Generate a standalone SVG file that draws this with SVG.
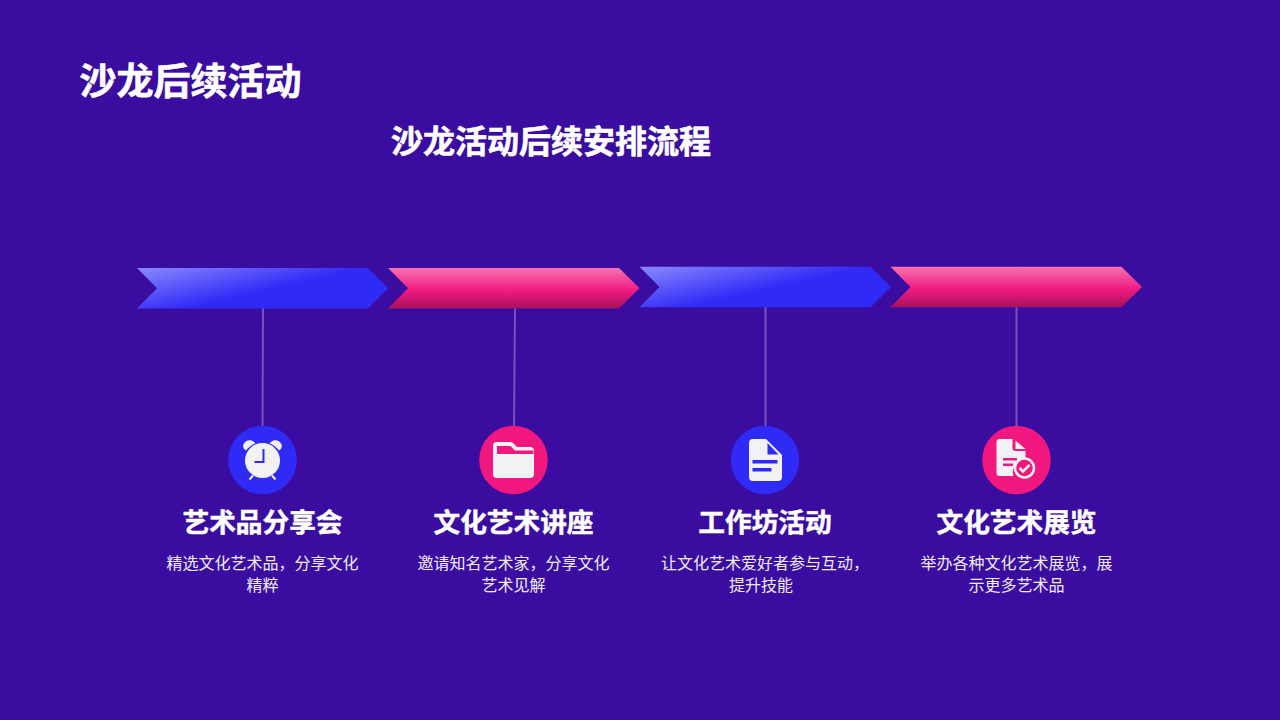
<svg xmlns="http://www.w3.org/2000/svg" width="1280" height="720" viewBox="0 0 1280 720">
<style>
text{font-family:"Noto Sans CJK SC","Noto Sans",sans-serif;text-anchor:middle;fill:#fff}
.h{font-weight:700;font-size:26.67px;stroke:#fff;stroke-width:.5px}
.d{font-size:16px;fill:#f1ecfb}
.t{font-weight:700;stroke:#fff;stroke-width:.6px}
.l{stroke:#6f55bd;stroke-width:2;fill:none}
.i{fill:#f2f2f4}
</style>
<defs>
<linearGradient id="bg" gradientUnits="userSpaceOnUse" x1="0" y1="0" x2="11" y2="49">
<stop offset="0" stop-color="#8a8aff"/><stop offset="1" stop-color="#2f2af5"/>
</linearGradient>
<linearGradient id="pg" x1="0" y1="0" x2="0" y2="1">
<stop offset="0" stop-color="#f872ae"/><stop offset="0.55" stop-color="#f01b80"/><stop offset="1" stop-color="#a80f5c"/>
</linearGradient>
<path id="chev" d="M0 0H231L251.500 20.200L231 40.500H0L20 20.200Z"/>
</defs>
<rect width="1280" height="720" fill="#3a0ca0"/>
<text id="title" x="190.500" y="95" class="t" font-size="37">沙龙后续活动</text>
<text id="subtitle" x="551" y="153" class="t" font-size="32">沙龙活动后续安排流程</text>
<g id="connectors">
<line class="l" x1="263" y1="307" x2="262.500" y2="430"/>
<line class="l" x1="515" y1="307" x2="514" y2="428"/>
<line class="l" x1="765.500" y1="307" x2="765.500" y2="428"/>
<line class="l" x1="1016.500" y1="307" x2="1016.500" y2="428"/>
</g>
<g id="step1">
<use href="#chev" x="137" y="268" fill="url(#bg)"/>
<circle cx="262.500" cy="460" r="34.300" fill="#2f2af5"/>
<circle class="i" cx="262.500" cy="460.500" r="17.500"/>
<path class="i" d="M246 450.500c-3-1.500-3.500-5-2-7 1.500-3 5-4 7.500-3 1.500.5 3 1.700 4 2.800-3.500 1.500-7 4-9.500 7.200zM279 450.500c3-1.500 3.500-5 2-7-1.500-3-5-4-7.500-3-1.500.5-3 1.700-4 2.800 3.500 1.500 7 4 9.500 7.200z"/>
<path d="M249.500 479.500l3.500-4M275.500 479.500l-3.500-4" stroke="#f2f2f4" stroke-width="2" fill="none"/>
<path d="M263.500 449v13h-9" stroke="#2f2af5" stroke-width="2" fill="none"/>
<text class="h" x="262.500" y="532">艺术品分享会</text>
<text class="d" x="262.500" y="569">精选文化艺术品，分享文化</text>
<text class="d" x="262.500" y="591">精粹</text>
</g>
<g id="step2">
<use href="#chev" x="388" y="268" fill="url(#pg)"/>
<circle cx="513.500" cy="460" r="34.300" fill="#f0187f"/>
<path class="i" d="M493 446a4 4 0 0 1 4-4h13c2 0 3 .8 4 2l3 3h13a4 4 0 0 1 4 4v23a4 4 0 0 1-4 4h-33a4 4 0 0 1-4-4z"/>
<path d="M497 446h13.500l4.500 4.500h18.500v3.500h-36.500z" fill="#f0187f"/>
<text class="h" x="513.500" y="532">文化艺术讲座</text>
<text class="d" x="513.500" y="569">邀请知名艺术家，分享文化</text>
<text class="d" x="513.500" y="591">艺术见解</text>
</g>
<g id="step3">
<use href="#chev" x="639.500" y="266.700" fill="url(#bg)"/>
<circle cx="765" cy="460" r="34.300" fill="#2f2af5"/>
<path class="i" d="M749 443a4 4 0 0 1 4-4h13l16 16v22a4 4 0 0 1-4 4h-25a4 4 0 0 1-4-4z"/>
<path d="M767.500 443l11 11.500h-11z" fill="#2f2af5"/>
<rect x="752.500" y="460" width="25" height="3.500" fill="#2f2af5"/>
<rect x="752.500" y="468" width="19" height="3.500" fill="#2f2af5"/>
<text class="h" x="765" y="532">工作坊活动</text>
<text class="d" x="765" y="569">让文化艺术爱好者参与互动，</text>
<text class="d" x="761" y="591">提升技能</text>
</g>
<g id="step4">
<use href="#chev" x="890.500" y="266.700" fill="url(#pg)"/>
<circle cx="1016.500" cy="460" r="34.300" fill="#f0187f"/>
<path class="i" d="M996.500 442a3 3 0 0 1 3-3h13v9a3 3 0 0 0 3 3h10v7a14 14 0 0 0-12 18H999.500a3 3 0 0 1-3-3z"/>
<path class="i" d="M1015.500 440.500l10 8.500h-10z"/>
<rect x="1003" y="458" width="14" height="2.500" fill="#f0187f"/>
<rect x="1003" y="463.500" width="10" height="2.500" fill="#f0187f"/>
<circle cx="1024.500" cy="468" r="9.500" fill="#f0187f" stroke="#f2f2f4" stroke-width="2.500"/>
<path d="M1019.500 468l3.500 3.500 6.500-6.500" stroke="#f2f2f4" stroke-width="2.500" fill="none"/>
<text class="h" x="1016.500" y="532">文化艺术展览</text>
<text class="d" x="1016.500" y="569">举办各种文化艺术展览，展</text>
<text class="d" x="1016.500" y="591">示更多艺术品</text>
</g>
</svg>
